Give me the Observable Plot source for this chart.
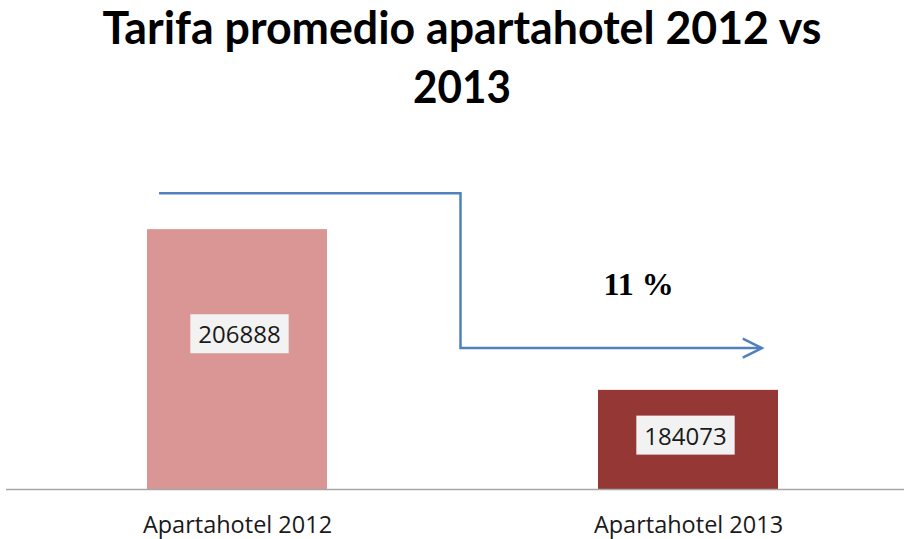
<!DOCTYPE html>
<html>
<head>
<meta charset="utf-8">
<script src="https://cdn.jsdelivr.net/npm/d3@7"></script>
<script src="https://cdn.jsdelivr.net/npm/@observablehq/plot@0.6"></script>
<style>
  body { margin: 0; background: #fff; }
  #wrap { position: relative; width: 904px; height: 539px; overflow: hidden; background: #fff; }
  #chart { position: absolute; left: 0; top: 0; }
  .t { position: absolute; left: 0; width: 904px; height: 56px; font-family: Lato, "Open Sans", sans-serif;
       font-weight: 700; font-size: 45px; color: #000; white-space: nowrap; line-height: 1; }
  .t span { position: absolute; left: 462px; top: 0; display: inline-block; transform-origin: 50% 50%; }
</style>
</head>
<body>
<div id="wrap">
  <div id="chart"></div>
  <div class="t" id="t1"><span></span></div>
  <div class="t" id="t2"><span></span></div>
</div>
<script>
// ---- data ----
const titleLines = ["Tarifa promedio apartahotel 2012 vs", "2013"];
const categories = ["Apartahotel 2012", "Apartahotel 2013"];
const values = [206888, 184073];
const barColors = ["#d99694", "#953735"];
const changeLabel = "11 %";
const yDomain = [170000, 215000];
const arrowLevels = [212000, 190000];
const changeLabelLevel = 199000;

// ---- title ----
const s1 = document.querySelector("#t1 span");
const s2 = document.querySelector("#t2 span");
s1.textContent = titleLines[0];
s2.textContent = titleLines[1];
document.getElementById("t1").style.top = "5px";
document.getElementById("t2").style.top = "64px";

const data = categories.map((c, i) => ({category: c, value: values[i], color: barColors[i]}));
const yMin = yDomain[0];

const chart = Plot.plot({
  width: 904,
  height: 539,
  marginTop: 172,
  marginBottom: 50,
  marginLeft: 6,
  marginRight: 0,
  style: {fontFamily: "Open Sans", background: "transparent", overflow: "visible"},
  x: {type: "band", domain: categories, range: [11.7, 913.7], paddingInner: 0.6, paddingOuter: 0.3, label: null},
  y: {domain: yDomain, axis: null},
  color: {type: "identity"},
  marks: [
    Plot.barY(data, {x: "category", y1: () => yMin, y2: "value", fill: "color"}),
    Plot.ruleY([yMin], {stroke: "#a6a6a6", strokeWidth: 1.5}),
    Plot.axisX({tickSize: 0, tickPadding: 27, fontSize: 23.5, fill: "#1a1a1a", anchor: "bottom", label: null}),
    Plot.text(data.slice(0, 1), {x: "category", y: d => (d.value + yMin) / 2, text: d => String(d.value),
      dy: -24, dx: 2, fontSize: 24, fill: "#1a1a1a", lineAnchor: "middle"}),
    Plot.text(data.slice(1, 2), {x: "category", y: d => (d.value + yMin) / 2, text: d => String(d.value),
      dy: -3, dx: -3, fontSize: 24, fill: "#1a1a1a", lineAnchor: "middle"}),
    Plot.text([changeLabel], {x: () => categories[1], y: () => changeLabelLevel, text: d => d, dx: -50,
      fontSize: 32, fontWeight: "bold", fontFamily: "Liberation Serif", fill: "#000", lineAnchor: "middle"})
  ]
});
document.getElementById("chart").appendChild(chart);

// value label boxes
const valueStrings = values.map(String);
d3.select(chart).selectAll("text").each(function () {
  if (!valueStrings.includes(this.textContent.trim())) return;
  const bb = this.getBBox();
  const ctm = this.getAttribute("transform");
  const cy = bb.y + bb.height / 2;
  const r = document.createElementNS("http://www.w3.org/2000/svg", "rect");
  r.setAttribute("x", bb.x - 8);
  r.setAttribute("y", cy - 19.5);
  r.setAttribute("width", bb.width + 16);
  r.setAttribute("height", 39);
  r.setAttribute("fill", "#f2f2f2");
  if (ctm) r.setAttribute("transform", ctm);
  this.parentNode.insertBefore(r, this);
});

// elbow arrow, positioned through the plot's scales
const xs = chart.scale("x"), ys = chart.scale("y");
const bw = xs.bandwidth;
const b1 = xs.apply(categories[0]), b2 = xs.apply(categories[1]);
const xStart = b1 + 0.067 * bw;
const xElbow = (b1 + b2 + bw) / 2 - 2;
const xTip = b2 + 0.91 * bw;
const yTop = ys.apply(arrowLevels[0]), yLow = ys.apply(arrowLevels[1]);
const g = d3.select(chart).append("g").attr("fill", "none").attr("stroke", "#4f81bd").attr("stroke-width", 2.5);
g.append("path").attr("d", `M${xStart},${yTop}H${xElbow}V${yLow}H${xTip}`);
g.append("path").attr("d", `M${xTip - 19},${yLow - 9.5}L${xTip},${yLow}L${xTip - 19},${yLow + 9.5}`);

// fit title line widths
const w1 = s1.getBoundingClientRect().width;
s1.style.transform = `translateX(-50%) scaleX(${719 / w1})`;
const w2 = s2.getBoundingClientRect().width;
s2.style.transform = `translateX(-50%) scaleX(${98 / w2})`;
</script>
</body>
</html>
